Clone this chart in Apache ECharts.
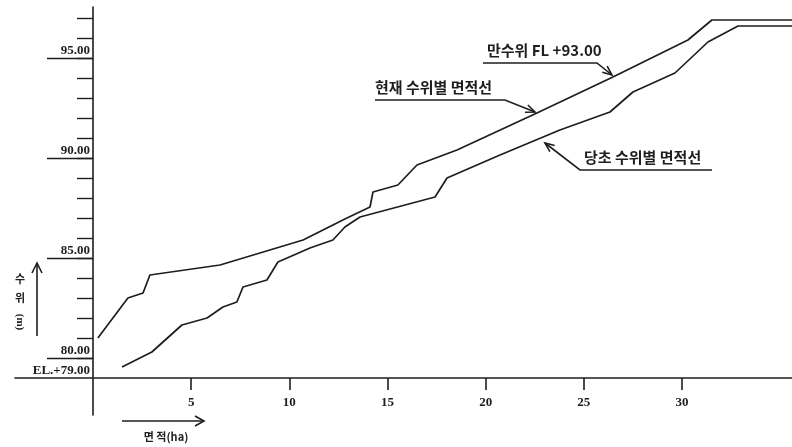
<!DOCTYPE html>
<html>
<head>
<meta charset="utf-8">
<script src="https://cdn.jsdelivr.net/npm/echarts@6/dist/echarts.min.js"></script>
<style>
html, body { margin: 0; padding: 0; background: #fff; }
#chart { width: 792px; height: 447px; }
</style>
</head>
<body>
<div id="chart"></div>
<script>
// 기준 표고 EL.+79.00 (x축이 지나가는 수위)
var baseEL = 79;

// 현재 수위별 면적선 : 면적(ha) / 수위(m)
var nowArea  = [0.25, 1.78, 2.55, 2.9, 6.47, 10.7, 12.83, 14.11, 14.26, 15.53, 16.5, 18.54, 22.61, 26.48, 30.3, 31.52, 35.6];
var nowLevel = [81.0, 83.0, 83.25, 84.15, 84.65, 85.9, 86.95, 87.55, 88.3, 88.65, 89.65, 90.4, 92.25, 94.05, 95.9, 96.9, 96.9];

// 당초 수위별 면적선
var oldArea  = [1.48, 3.0, 4.53, 5.81, 6.62, 7.33, 7.64, 8.86, 9.42, 11.05, 12.22, 12.83, 13.6, 17.42, 18.03, 20.73, 23.78, 26.33, 27.5, 29.64, 31.32, 32.85, 35.6];
var oldLevel = [79.55, 80.3, 81.65, 82.0, 82.55, 82.8, 83.55, 83.9, 84.8, 85.5, 85.9, 86.55, 87.05, 88.05, 89.0, 90.15, 91.4, 92.3, 93.3, 94.25, 95.8, 96.6, 96.6];

// 눈금
var xTicks = [5, 10, 15, 20, 25, 30];
var yTicks = [80, 81, 82, 83, 84, 85, 86, 87, 88, 89, 90, 91, 92, 93, 94, 95, 96, 97];
var yMajor = [80, 85, 90, 95];

var INK = '#1e1e1e';
var X_MIN = -3.97, X_MAX = 35.6;
var Y_MIN = 77.15, Y_MAX = 97.55;

var chart = echarts.init(document.getElementById('chart'));

var option = {
  animation: false,
  backgroundColor: '#fff',
  grid: { left: 15, right: 0, top: 7, bottom: 32, containLabel: false, outerBoundsMode: 'none' },
  xAxis: {
    type: 'value',
    min: X_MIN,
    max: X_MAX,
    position: 'bottom',
    offset: -37,               // EL.+79.00 위치로 올림
    axisLine: { onZero: false, lineStyle: { color: INK, width: 1.6 } },
    axisTick: { customValues: xTicks, length: 12, lineStyle: { color: INK, width: 1.6 } },
    axisLabel: { customValues: xTicks, margin: 18, color: INK, fontFamily: 'Liberation Serif', fontSize: 13, fontWeight: 'bold' },
    splitLine: { show: false }
  },
  yAxis: [
    {
      type: 'value',
      min: Y_MIN,
      max: Y_MAX,
      position: 'left',
      offset: -78,             // 면적 0 위치로 옮김
      axisLine: { onZero: false, lineStyle: { color: INK, width: 1.6 } },
      axisTick: { customValues: yTicks, length: 16, lineStyle: { color: INK, width: 1.4 } },
      axisLabel: {
        customValues: [baseEL].concat(yMajor),
        margin: 3,
        verticalAlign: 'bottom',
        padding: [0, 0, 1, 0],
        color: INK,
        fontFamily: 'Liberation Serif',
        fontSize: 13,
        fontWeight: 'bold',
        formatter: function (v) {
          return v === baseEL ? 'EL.+79.00' : v.toFixed(2);
        }
      },
      splitLine: { show: false }
    },
    {
      // 주요 눈금의 긴 밑줄
      type: 'value',
      min: Y_MIN,
      max: Y_MAX,
      position: 'left',
      offset: -78,
      axisLine: { show: false, onZero: false },
      axisTick: { customValues: yMajor, length: 46, lineStyle: { color: INK, width: 1.4 } },
      axisLabel: { show: false },
      splitLine: { show: false }
    }
  ],
  series: [
    {
      name: '현재 수위별 면적선',
      type: 'line',
      showSymbol: false,
      silent: true,
      lineStyle: { color: INK, width: 1.7 },
      data: nowArea.map(function (x, i) { return [x, nowLevel[i]]; })
    },
    {
      name: '당초 수위별 면적선',
      type: 'line',
      showSymbol: false,
      silent: true,
      lineStyle: { color: INK, width: 1.7 },
      data: oldArea.map(function (x, i) { return [x, oldLevel[i]]; })
    }
  ]
};

chart.setOption(option);

// 주기 (화살표가 가리키는 곳은 데이터 좌표)
var notes = [
  { text: '만수위 FL +93.00', area: 26.43, level: 94.15, dx: -15, dy: -12, len: -114, tx: 4 },
  { text: '현재 수위별 면적선', area: 22.51, level: 92.3, dx: -30, dy: -12, len: -130, tx: 0 },
  { text: '당초 수위별 면적선', area: 23.02, level: 90.75, dx: 35, dy: 27, len: 132, tx: 4 }
];

function arrowHead(tip, from, size) {
  var ang = Math.atan2(from[1] - tip[1], from[0] - tip[0]);
  var a1 = ang + 0.4, a2 = ang - 0.4;
  return [
    [tip[0] + size * Math.cos(a1), tip[1] + size * Math.sin(a1)],
    tip,
    [tip[0] + size * Math.cos(a2), tip[1] + size * Math.sin(a2)]
  ];
}

var graphics = [];
notes.forEach(function (n) {
  var tip = chart.convertToPixel({ xAxisIndex: 0, yAxisIndex: 0 }, [n.area, n.level]);
  var elbow = [tip[0] + n.dx, tip[1] + n.dy];
  var end = [elbow[0] + n.len, elbow[1]];
  graphics.push({
    type: 'polyline', silent: true,
    shape: { points: [end, elbow, tip] },
    style: { stroke: INK, lineWidth: 1.6, fill: null }
  });
  graphics.push({
    type: 'polyline', silent: true,
    shape: { points: arrowHead(tip, elbow, 10) },
    style: { stroke: INK, lineWidth: 1.6, fill: null }
  });
  var left = Math.min(end[0], elbow[0]) + n.tx;
  graphics.push({
    type: 'text', silent: true,
    x: left, y: elbow[1] - 5,
    style: {
      text: n.text, fill: INK,
      font: 'bold 15px "Noto Sans CJK KR"',
      textAlign: 'left', textVerticalAlign: 'bottom'
    }
  });
});

// 축 이름 : 수위(m), 면적(ha)
graphics.push(
  { type: 'text', silent: true, x: 20, y: 279, style: { text: '수', fill: INK, font: 'bold 11px "Noto Sans CJK KR"', textAlign: 'center', textVerticalAlign: 'middle' } },
  { type: 'text', silent: true, x: 20, y: 298, style: { text: '위', fill: INK, font: 'bold 11px "Noto Sans CJK KR"', textAlign: 'center', textVerticalAlign: 'middle' } },
  { type: 'text', silent: true, x: 20, y: 322, rotation: -Math.PI / 2, style: { text: '(m)', fill: INK, font: 'bold 11px "Liberation Serif"', textAlign: 'center', textVerticalAlign: 'middle' } },
  { type: 'line', silent: true, shape: { x1: 37, y1: 336, x2: 37, y2: 263 }, style: { stroke: INK, lineWidth: 1.6 } },
  { type: 'polyline', silent: true, shape: { points: [[32, 273], [37, 263], [42, 273]] }, style: { stroke: INK, lineWidth: 1.6, fill: null } },
  { type: 'line', silent: true, shape: { x1: 122, y1: 421, x2: 204, y2: 421 }, style: { stroke: INK, lineWidth: 1.6 } },
  { type: 'polyline', silent: true, shape: { points: [[195, 416], [204, 421], [195, 426]] }, style: { stroke: INK, lineWidth: 1.6, fill: null } },
  { type: 'text', silent: true, x: 166, y: 437, style: { text: '면 적(ha)', fill: INK, font: 'bold 11px "Noto Sans CJK KR"', textAlign: 'center', textVerticalAlign: 'middle' } }
);

chart.setOption({ graphic: graphics });

window.addEventListener('resize', function () { chart.resize(); });
</script>
</body>
</html>
